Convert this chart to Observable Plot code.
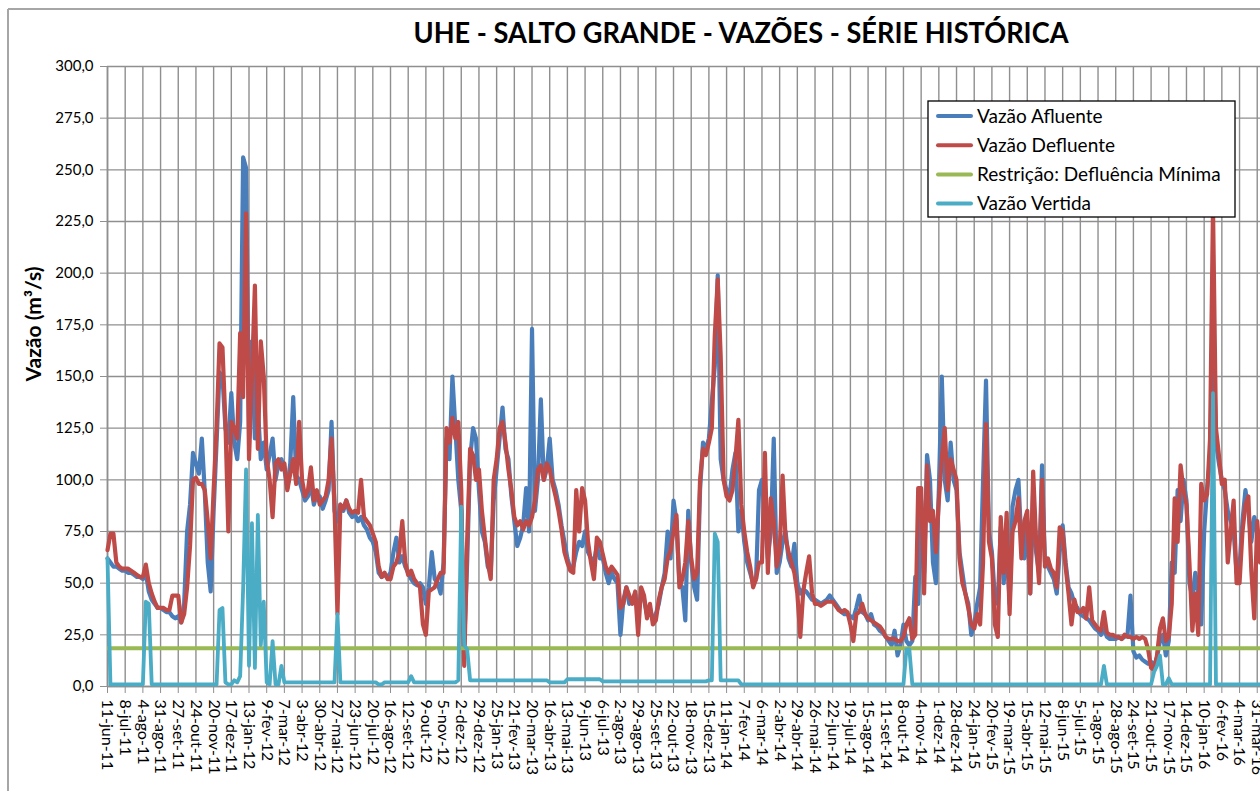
<!DOCTYPE html>
<html><head><meta charset="utf-8">
<script src="https://cdn.jsdelivr.net/npm/d3@7"></script>
<script src="https://cdn.jsdelivr.net/npm/@observablehq/plot@0.6"></script>
<style>
html,body{margin:0;padding:0;background:#fff;overflow:hidden;}
#chart{position:relative;width:1260px;height:791px;overflow:hidden;}
</style></head><body><div id="chart"></div>
<script>
const titulo = "UHE - SALTO GRANDE - VAZÕES - SÉRIE HISTÓRICA";
const rotuloY = "Vazão (m³/s)";
const inicio = "2011-06-11";
const passoDias = 4.5;   // spacing of the read samples
const passoTicks = 27;   // spacing of the category ticks (days)
const fimDias = 1760;    // visible extent of the axis (days)
const tickLabels = ["11-jun-11","8-jul-11","4-ago-11","31-ago-11","27-set-11","24-out-11","20-nov-11","17-dez-11","13-jan-12","9-fev-12","7-mar-12","3-abr-12","30-abr-12","27-mai-12","23-jun-12","20-jul-12","16-ago-12","12-set-12","9-out-12","5-nov-12","2-dez-12","29-dez-12","25-jan-13","21-fev-13","20-mar-13","16-abr-13","13-mai-13","9-jun-13","6-jul-13","2-ago-13","29-ago-13","25-set-13","22-out-13","18-nov-13","15-dez-13","11-jan-14","7-fev-14","6-mar-14","2-abr-14","29-abr-14","26-mai-14","22-jun-14","19-jul-14","15-ago-14","11-set-14","8-out-14","4-nov-14","1-dez-14","28-dez-14","24-jan-15","20-fev-15","19-mar-15","15-abr-15","12-mai-15","8-jun-15","5-jul-15","1-ago-15","28-ago-15","24-set-15","21-out-15","17-nov-15","14-dez-15","10-jan-16","6-fev-16","4-mar-16","31-mar-16"];
const yTicks = [0,25,50,75,100,125,150,175,200,225,250,275,300];

const afluente = [
62,60,58,58,57,56, 56,55,55,54,53,53, 52,55,46,42,40,38, 38,37,36,36,34,33,
34,31,40,75,88,113, 108,103,120,94,60,46, 85,118,152,150,125,118, 142,118,110,128,256,251,
125,167,120,135,110,118, 105,112,120,100,108,110, 105,96,108,140,102,100, 95,90,92,98,88,93,
92,86,90,95,128,85, 80,88,85,90,84,82, 83,80,82,78,76,72, 70,65,55,53,54,53,
55,65,72,60,63,58, 55,52,50,49,50,48, 40,48,65,52,50,45, 60,120,110,150,125,100,
85,20,60,110,125,120, 95,75,70,58,55,90, 105,120,135,115,110,92, 80,68,72,78,96,75,
173,85,100,139,100,105, 120,100,95,88,78,70, 62,57,58,65,70,68, 75,65,62,60,68,62,
62,55,50,55,52,50, 25,42,48,40,42,45, 35,45,42,35,38,32, 35,40,48,55,75,62,
90,80,50,48,32,85, 60,48,42,95,118,115, 120,138,155,199,110,100, 95,92,105,113,75,85,
70,60,55,50,52,95, 100,80,62,75,120,55, 60,70,75,62,58,69, 50,45,47,46,44,42,
42,41,40,41,42,44, 42,40,38,36,35,35, 34,33,38,44,36,35, 32,35,30,29,27,26,
24,22,20,27,15,20, 30,22,20,22,53,40, 90,55,112,100,60,50, 95,150,100,90,118,100,
95,65,55,45,40,25, 30,40,48,100,148,75, 65,43,40,77,50,70, 40,87,95,100,70,62,
80,45,95,65,55,107, 60,58,55,52,45,65, 78,60,48,45,40,38, 35,34,33,32,30,28,
27,25,28,24,23,23, 23,24,23,24,25,44, 17,14,15,13,12,11, 12,10,14,22,25,15,
22,60,55,95,80,100, 90,50,43,55,45,30, 75,96,110,180,118,108, 100,95,85,80,75,55,
58,80,95,85,70,82, 75,70];

const defluente = [
66,74,74,60,58,57, 57,57,56,55,54,53, 53,59,50,45,41,38, 38,38,37,37,44,44,
44,31,35,48,68,100, 101,98,98,95,80,62, 95,125,166,164,128,75, 128,125,120,171,140,229,
110,150,194,115,167,150, 110,100,82,108,110,105, 108,95,103,110,98,128, 100,92,95,106,90,95,
88,90,92,100,120,88, 35,88,86,90,86,84, 85,84,100,82,80,78, 74,70,58,53,55,52,
52,58,60,65,80,60, 54,56,52,50,48,30, 25,46,47,48,52,55, 55,125,118,130,120,128,
95,10,70,115,112,100, 105,85,72,60,52,100, 110,125,128,118,105,95, 82,78,80,76,80,78,
82,90,105,107,100,108, 105,98,92,85,76,65, 60,56,55,95,75,96, 90,70,60,52,72,70,
64,58,55,58,56,54, 38,40,48,44,40,46, 25,48,44,33,40,30, 32,42,48,52,62,66,
75,83,48,52,60,80, 62,52,55,100,115,112, 118,125,170,197,160,100, 92,90,95,110,129,88,
75,65,58,48,52,60, 60,113,55,91,80,58, 65,102,72,65,60,55, 45,24,46,55,63,45,
40,40,39,40,41,41, 41,39,37,36,37,36, 30,22,35,36,40,35, 33,32,31,30,29,27,
24,23,23,23,22,22, 24,30,33,23,25,96, 96,45,107,80,85,65, 90,110,125,95,110,105,
100,62,50,45,38,30, 28,35,30,60,127,70, 62,30,24,82,55,84, 35,75,80,91,62,80,
85,45,104,70,50,100, 58,62,57,55,48,77, 75,58,45,30,42,36, 36,38,33,48,32,30,
28,27,36,26,25,25, 24,24,23,25,24,24, 23,24,23,24,23,18, 9,8,15,28,33,22,
24,40,91,70,107,95, 88,60,27,45,25,98, 90,93,120,232,125,112, 98,100,60,75,90,50,
50,75,88,92,56,33, 80,60];

const vertida = [
62,1,1,1,1,1, 1,1,1,1,1,1, 1,41,40,1,1,1, 1,1,1,1,1,1,
1,1,1,1,1,1, 1,1,1,1,1,1, 1,1,37,38,2,1, 1,3,2,5,47,105,
10,79,9,83,20,41, 2,1,22,1,1,10, 2,2,2,2,2,2, 2,2,2,2,2,2,
2,2,2,2,2,2, 35,2,2,2,2,2, 2,2,2,2,2,2, 2,2,1,1,2,2,
2,2,2,2,2,2, 2,5,2,2,2,2, 2,2,2,2,2,2, 2,2,2,2,2,3,
87,20,18,3,3,3, 3,3,3,3,3,3, 3,3,3,3,3,3, 3,3,3,3,3,3,
3,3,3,3,3,3, 2,2,2,2,2,2, 3.5,3.5,3.5,3.5,3.5,3.5, 3.5,3.5,3.5,3.5,3.5,3.5,
2.5,2.5,2.5,2.5,2.5,2.5, 2.5,2.5,2.5,2.5,2.5,2.5, 2.5,2.5,2.5,2.5,2.5,2.5, 2.5,2.5,2.5,2.5,2.5,2.5,
2.5,2.5,2.5,2.5,2.5,2.5, 2.5,2.5,2.5,2.5,2.5,2.5, 3,3,74,70,3,3, 3,3,3,3,3,1,
1,1,1,1,1,1, 1,1,1,1,1,1, 1,1,1,1,1,1, 1,1,1,1,1,1,
1,1,1,1,1,1, 1,1,1,1,1,1, 1,1,1,1,1,1, 1,1,1,1,1,1,
1,1,1,1,1,1, 1,18,18,1,1,1, 1,1,1,1,1,1, 1,1,1,1,1,1,
1,1,1,1,1,1, 1,1,1,1,1,1, 1,1,1,1,1,1, 1,1,1,1,1,1,
1,1,1,1,1,1, 1,1,1,1,1,1, 1,1,1,1,1,1, 1,1,1,1,1,1,
1,1,10,1,1,1, 1,1,1,1,1,1, 1,1,1,1,1,1, 1,7,10,15,1,1,
4,1,1,1,1,1, 1,1,1,1,1,1, 1,1,1,142,1,1, 1,1,1,1,1,1,
1,1,1,1,1,1, 1,1];

const restricao = 18.5;
const serieNomes = ["Vazão Afluente","Vazão Defluente","Restrição: Defluência Mínima","Vazão Vertida"];
const cores = ["#4A7EBB","#BE4B48","#98B954","#4BACC6"];

const DIA = 864e5;
const t0 = new Date(inicio + "T00:00:00Z");
const tFim = new Date(+t0 + fimDias * DIA);
const serie = vals => vals.map((v, i) => ({date: new Date(+t0 + i * passoDias * DIA), v}));
const tickDates = tickLabels.map((_, k) => new Date(+t0 + k * passoTicks * DIA));
const labelOf = new Map(tickDates.map((d, k) => [+d, tickLabels[k]]));
const fmtY = d => d.toFixed(1).replace(".", ",");
const grid = "#8f8f8f";
const fonte = "Lato, Carlito, 'Open Sans', sans-serif";
const lineOpts = w => ({x: "date", y: "v", strokeWidth: w, strokeLinejoin: "round", strokeLinecap: "round"});

const plot = Plot.plot({
  width: 1260, height: 791,
  marginLeft: 107, marginRight: 0, marginTop: 66, marginBottom: 105,
  style: {fontFamily: fonte, background: "#fff", color: "#000", overflow: "visible"},
  x: {type: "utc", domain: [t0, tFim]},
  y: {domain: [0, 300]},
  marks: [
    Plot.gridX(tickDates, {stroke: grid, strokeOpacity: 1, strokeWidth: 1.4}),
    Plot.gridY(yTicks, {stroke: grid, strokeOpacity: 1, strokeWidth: 1.4}),
    Plot.ruleX([t0], {stroke: grid, strokeWidth: 1.6}),
    Plot.ruleY([0], {stroke: grid, strokeWidth: 1.6}),
    Plot.axisY(yTicks, {tickSize: 7, tickPadding: 7, fontSize: 15, tickFormat: fmtY, stroke: grid, fill: "#000", label: null}),
    Plot.axisX(tickDates, {tickSize: 7, tickPadding: 6, tickRotate: 90, fontSize: 16, tickFormat: d => labelOf.get(+d), stroke: grid, fill: "#000", label: null}),
    Plot.lineY(serie(afluente), {...lineOpts(4.2), stroke: cores[0]}),
    Plot.lineY(serie(defluente), {...lineOpts(4.2), stroke: cores[1]}),
    Plot.ruleY([restricao], {stroke: cores[2], strokeWidth: 4}),
    Plot.lineY(serie(vertida), {...lineOpts(3.8), stroke: cores[3]})
  ]
});
document.getElementById("chart").appendChild(plot);

const svg = d3.select(plot);
// chart-area frame
svg.append("line").attr("x1", 8).attr("x2", 1260).attr("y1", 9).attr("y2", 9).attr("stroke", "#a6a6a6").attr("stroke-width", 2);
svg.append("line").attr("x1", 8).attr("x2", 8).attr("y1", 9).attr("y2", 791).attr("stroke", "#a6a6a6").attr("stroke-width", 2);
// title
svg.append("text").attr("x", 741).attr("y", 43).attr("text-anchor", "middle")
  .attr("font-family", fonte).attr("font-weight", 700).attr("font-size", 28)
  .attr("textLength", 655).attr("lengthAdjust", "spacingAndGlyphs").attr("fill", "#000").text(titulo);
// y label
svg.append("text").attr("transform", "translate(41,324) rotate(-90)").attr("text-anchor", "middle")
  .attr("font-family", fonte).attr("font-weight", 700).attr("font-size", 21).attr("fill", "#000").text(rotuloY);
// legend
const lg = svg.append("g");
lg.append("rect").attr("x", 928).attr("y", 101).attr("width", 307).attr("height", 116)
  .attr("fill", "#fff").attr("stroke", "#000").attr("stroke-width", 1.3);
serieNomes.forEach((nome, i) => {
  const yy = 116 + i * 29.2;
  lg.append("line").attr("x1", 938).attr("x2", 971).attr("y1", yy).attr("y2", yy)
    .attr("stroke", cores[i]).attr("stroke-width", 4).attr("stroke-linecap", "round");
  lg.append("text").attr("x", 977).attr("y", yy).attr("dy", "0.35em").attr("text-anchor", "start")
    .attr("font-family", fonte).attr("font-size", 19).attr("fill", "#000").text(nome);
});
</script></body></html>
